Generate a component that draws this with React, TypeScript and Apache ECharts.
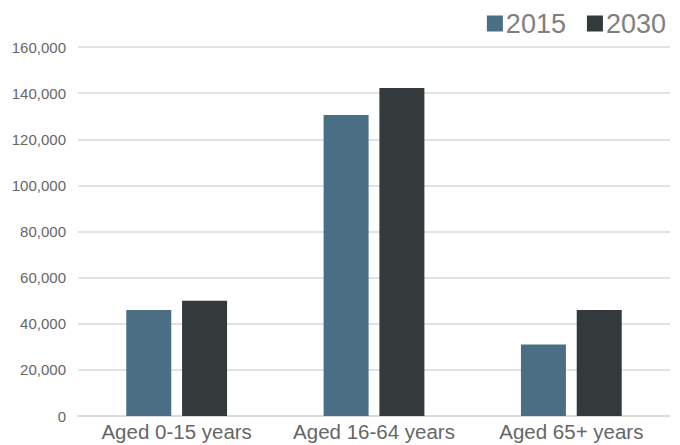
import React, { useEffect, useRef } from "react";
import * as echarts from "echarts";

const categories = ["Aged 0-15 years", "Aged 16-64 years", "Aged 65+ years"];
const values2015 = [46000, 130500, 31000];
const values2030 = [50000, 142200, 46000];
const seriesNames = ["2015", "2030"];

export default function App() {
  const ref = useRef<HTMLDivElement>(null);
  useEffect(() => {
    const chart = echarts.init(ref.current!, null, { renderer: "svg" });
    chart.setOption({
      animation: false,
      textStyle: { fontFamily: "Liberation Sans, Arial, sans-serif" },
      legend: {
        right: 9,
        top: 5,
        itemWidth: 16,
        itemHeight: 16,
        itemGap: 21,
        icon: "rect",
        textStyle: { fontSize: 27, color: "#7f7f7f", padding: [0, 0, 0, -2] },
        data: seriesNames,
      },
      grid: { left: 78, right: 10, top: 47, bottom: 29 },
      xAxis: {
        type: "category",
        data: categories,
        axisLine: { lineStyle: { color: "#d9d9d9", width: 1.5 } },
        axisTick: { show: false },
        axisLabel: { fontSize: 20.5, color: "#666666", margin: 5, interval: 0, hideOverlap: false },
      },
      yAxis: {
        type: "value",
        min: 0,
        max: 160000,
        interval: 20000,
        axisLine: { show: false },
        axisTick: { show: false },
        splitLine: { lineStyle: { color: "#d9d9d9", width: 1.5 } },
        axisLabel: {
          fontSize: 15,
          color: "#666666",
          margin: 12,
          formatter: (v: number) => v.toLocaleString("en-US"),
        },
      },
      series: [
        {
          name: seriesNames[0],
          type: "bar",
          data: values2015,
          barWidth: 45,
          barGap: "24%",
          itemStyle: { color: "#4a6f84" },
        },
        {
          name: seriesNames[1],
          type: "bar",
          data: values2030,
          barWidth: 45,
          barGap: "24%",
          itemStyle: { color: "#343a3b" },
        },
      ],
    });
    return () => chart.dispose();
  }, []);
  return <div ref={ref} style={{ width: 680, height: 445, position: "absolute", left: 0, top: 0 }} />;
}
